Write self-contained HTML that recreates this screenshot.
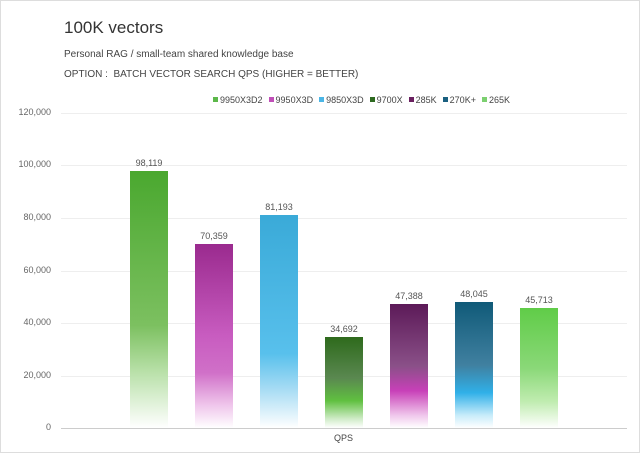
<!DOCTYPE html><html><head><style>
body{margin:0;background:#fff}
.c{position:relative;width:638px;height:451px;border:1px solid #ddd;font-family:"Liberation Sans",sans-serif;color:#444;overflow:hidden}
.t{position:absolute;left:63px;top:17px;font-size:17px;color:#333}
.s{position:absolute;left:63px;font-size:10px;color:#444}
.g{position:absolute;left:60px;width:566px;height:1px;background:#eee}
.y{position:absolute;left:0;width:50px;text-align:right;font-size:9px;color:#666}
.b{position:absolute;width:38px}
.v{position:absolute;width:60px;text-align:center;font-size:9px;color:#555}
.lg{position:absolute;top:94px;left:206px;font-size:9px;color:#444;white-space:nowrap}
.lg span{display:inline-block;width:5px;height:5px;margin:0 2px 1px 6px}
</style></head><body><div class="c">
<div class="t">100K vectors</div>
<div class="s" style="top:48px">Personal RAG / small-team shared knowledge base</div>
<div class="s" style="top:68px">OPTION :&nbsp; BATCH VECTOR SEARCH QPS (HIGHER = BETTER)</div>
<div class="lg"><span style="background:#5cb84a"></span>9950X3D2<span style="background:#c04fb8"></span>9950X3D<span style="background:#4bb6e6"></span>9850X3D<span style="background:#2e6a20"></span>9700X<span style="background:#6a2060"></span>285K<span style="background:#1a6080"></span>270K+<span style="background:#7cd070"></span>265K</div>
<div class="g" style="top:112px"></div><div class="y" style="top:106px">120,000</div>
<div class="g" style="top:164px"></div><div class="y" style="top:158px">100,000</div>
<div class="g" style="top:217px"></div><div class="y" style="top:211px">80,000</div>
<div class="g" style="top:270px"></div><div class="y" style="top:264px">60,000</div>
<div class="g" style="top:322px"></div><div class="y" style="top:316px">40,000</div>
<div class="g" style="top:375px"></div><div class="y" style="top:369px">20,000</div>
<div class="g" style="top:427px;background:#ccc"></div><div class="y" style="top:421px">0</div>
<div class="b" style="left:129px;top:170px;height:257px;background:linear-gradient(#4aa82f,#7cc060 60%,#b8e0a8 78%,#fff)"></div>
<div class="v" style="left:118px;top:157px">98,119</div>
<div class="b" style="left:194px;top:243px;height:184px;background:linear-gradient(#9a2a8e,#c85cc0 50%,#d070c8 70%,#f0c8ec 88%,#fff)"></div>
<div class="v" style="left:183px;top:230px">70,359</div>
<div class="b" style="left:259px;top:214px;height:213px;background:linear-gradient(#3aaad8,#58c0ec 65%,#a8dcf4 82%,#fff)"></div>
<div class="v" style="left:248px;top:201px">81,193</div>
<div class="b" style="left:324px;top:336px;height:91px;background:linear-gradient(#2e6a1c,#5a8850 45%,#60c040 70%,#d0ecc8 90%,#fff)"></div>
<div class="v" style="left:313px;top:323px">34,692</div>
<div class="b" style="left:389px;top:303px;height:124px;background:linear-gradient(#5c1a58,#8a5088 50%,#c840b8 70%,#f0c8ec 90%,#fff)"></div>
<div class="v" style="left:378px;top:290px">47,388</div>
<div class="b" style="left:454px;top:301px;height:126px;background:linear-gradient(#105a78,#4080a0 50%,#30b0e8 72%,#c8ecfa 90%,#fff)"></div>
<div class="v" style="left:443px;top:288px">48,045</div>
<div class="b" style="left:519px;top:307px;height:120px;background:linear-gradient(#60cc48,#8ad878 50%,#c0ecb0 78%,#fff)"></div>
<div class="v" style="left:508px;top:294px">45,713</div>
<div style="position:absolute;left:333px;top:432px;font-size:9px;color:#444">QPS</div>
</div></body></html>
